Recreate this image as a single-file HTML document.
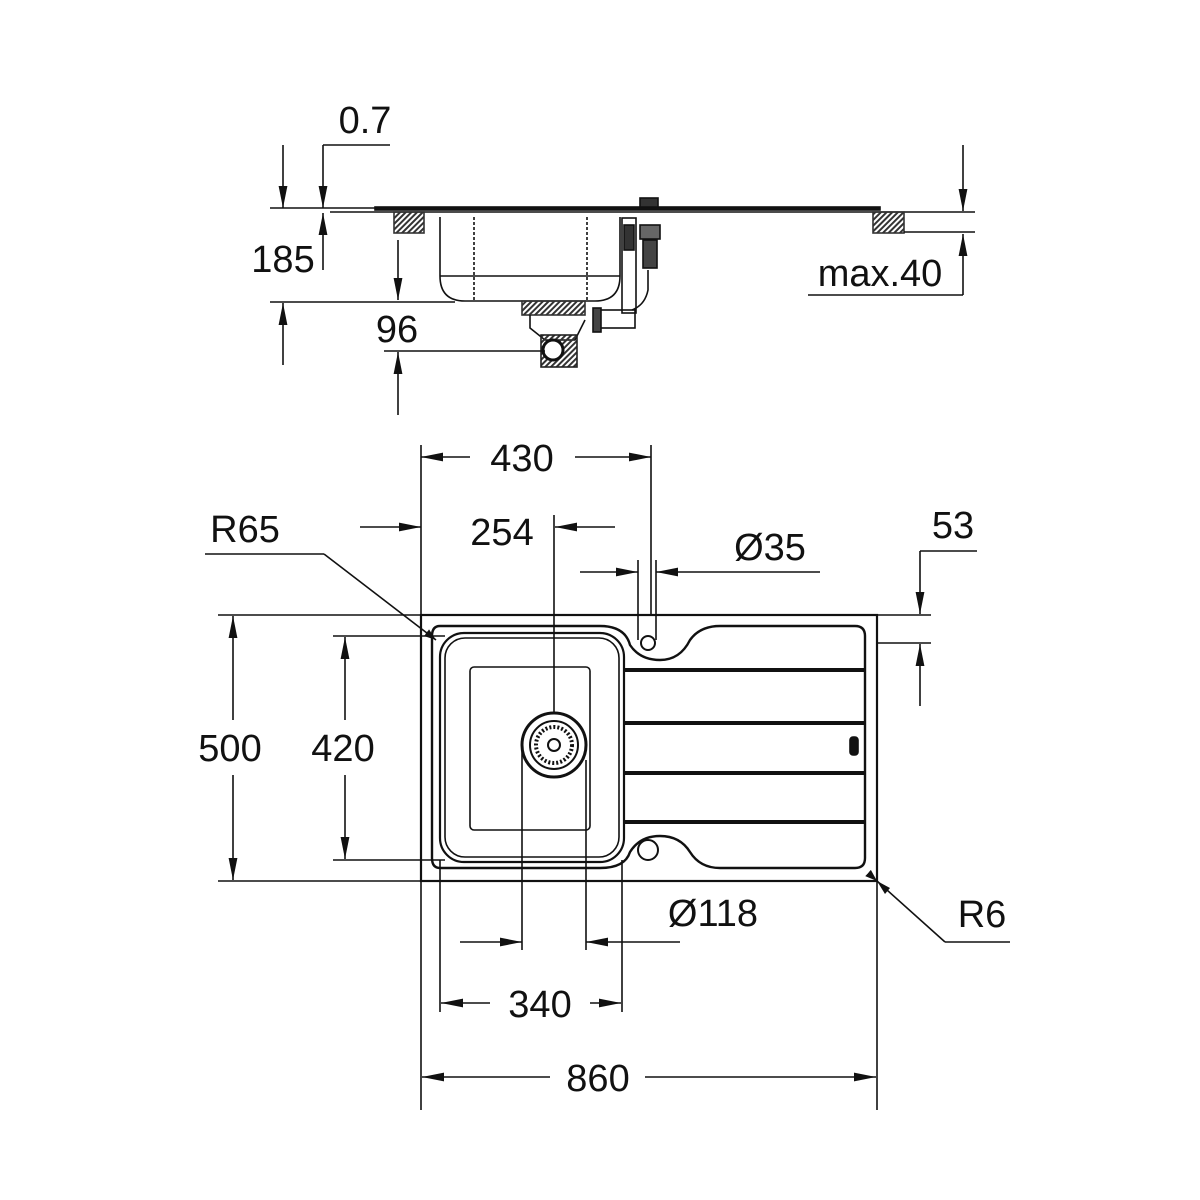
<!DOCTYPE html>
<html><head><meta charset="utf-8"><style>
html,body{margin:0;padding:0;background:#fff}
svg{display:block}
text{font-family:"Liberation Sans",sans-serif;font-size:38px;fill:#111}
</style></head><body>
<svg width="1200" height="1200" viewBox="0 0 1200 1200" xmlns="http://www.w3.org/2000/svg">
<defs>
<marker id="a" viewBox="0 0 10 10" refX="10" refY="5" markerWidth="12" markerHeight="12" markerUnits="userSpaceOnUse" orient="auto"><path d="M0,1.5 L10,5 L0,8.5z" fill="#111"/></marker>
<marker id="b" viewBox="0 0 20 10" refX="20" refY="5" markerWidth="22" markerHeight="11" markerUnits="userSpaceOnUse" orient="auto"><path d="M0,1 L20,5 L0,9z" fill="#111"/></marker>
<pattern id="h" width="4" height="4" patternUnits="userSpaceOnUse" patternTransform="rotate(45)"><rect width="2" height="4" fill="#333"/></pattern>
</defs>
<g stroke="#111" stroke-width="1.6" fill="none">
<line x1="270" y1="208" x2="380" y2="208"/>
<rect x="375" y="207" width="505" height="3" fill="#111"/>
<line x1="330" y1="212" x2="975" y2="212"/>
<rect x="394" y="212" width="30" height="21" fill="url(#h)" stroke="#333"/>
<rect x="873" y="212" width="31" height="21" fill="url(#h)" stroke="#333"/>
<line x1="904" y1="232" x2="975" y2="232"/>
<path d="M440 217 L440 276 Q440 301 465 301 L595 301 Q620 301 620 276 L620 217"/>
<line x1="440" y1="276" x2="620" y2="276"/>
<line x1="474" y1="217" x2="474" y2="301" stroke-dasharray="3 2"/>
<line x1="587" y1="217" x2="587" y2="301" stroke-dasharray="3 2"/>
<rect x="522" y="301" width="63" height="14" fill="url(#h)" stroke="#333"/>
<path d="M530 315 L530 328 L545 340 L575 340 L585 320"/>
<rect x="541" y="335" width="36" height="32" fill="url(#h)" stroke="#222"/>
<circle cx="553" cy="350" r="10" fill="#fff" stroke-width="3"/>
<rect x="595" y="310" width="40" height="18"/>
<rect x="593" y="308" width="8" height="24" fill="#444"/>
<rect x="622" y="218" width="14" height="95"/>
<rect x="624" y="225" width="10" height="25" fill="#333"/>
<path d="M648 270 L648 290 Q645 305 632 310"/>
<rect x="640" y="198" width="18" height="9" fill="#333"/>
<rect x="640" y="225" width="20" height="14" fill="#666"/>
<rect x="643" y="240" width="14" height="28" fill="#444"/>
<line x1="283" y1="145" x2="283" y2="208" marker-end="url(#b)"/>
<line x1="283" y1="365" x2="283" y2="303" marker-end="url(#b)"/>
<line x1="270" y1="302" x2="455" y2="302"/>
<line x1="323" y1="145" x2="390" y2="145"/>
<line x1="323" y1="145" x2="323" y2="208" marker-end="url(#b)"/>
<line x1="323" y1="270" x2="323" y2="213" marker-end="url(#b)"/>
<line x1="398" y1="240" x2="398" y2="300" marker-end="url(#b)"/>
<line x1="398" y1="415" x2="398" y2="352" marker-end="url(#b)"/>
<line x1="384" y1="351" x2="545" y2="351"/>
<line x1="963" y1="145" x2="963" y2="211" marker-end="url(#b)"/>
<line x1="963" y1="295" x2="963" y2="234" marker-end="url(#b)"/>
<line x1="808" y1="295" x2="963" y2="295"/>
<rect x="421" y="615" width="456" height="266" stroke-width="2.2"/>
<path d="M440 626 L600 626 Q625 626 630 645 Q640 660 660 660 Q680 660 690 640 Q700 626 720 626 L855 626 Q865 626 865 636 L865 858 Q865 868 855 868 L720 868 Q700 868 690 852 Q680 836 660 836 Q640 836 630 852 Q625 868 600 868 L440 868 Q432 868 432 858 L432 636 Q432 626 440 626 Z" stroke-width="2.4"/>
<rect x="440" y="633" width="184" height="229" rx="24" stroke-width="2.2"/>
<rect x="445" y="638" width="174" height="219" rx="20"/>
<rect x="470" y="667" width="120" height="163" rx="4"/>
<line x1="624" y1="670" x2="865" y2="670" stroke-width="4"/>
<line x1="624" y1="723" x2="865" y2="723" stroke-width="4"/>
<line x1="624" y1="773" x2="865" y2="773" stroke-width="4"/>
<line x1="624" y1="822" x2="865" y2="822" stroke-width="4"/>
<rect x="850" y="737" width="8" height="18" rx="3" fill="#111"/>
<circle cx="648" cy="643" r="7" stroke-width="2"/>
<circle cx="648" cy="850" r="10" stroke-width="2"/>
<circle cx="554" cy="745" r="32" stroke-width="3"/>
<circle cx="554" cy="745" r="24" stroke-width="2"/>
<circle cx="554" cy="745" r="18" stroke-width="4" stroke-dasharray="2 2"/>
<circle cx="554" cy="745" r="6" stroke-width="2"/>
<line x1="421" y1="445" x2="421" y2="1110"/>
<line x1="877" y1="881" x2="877" y2="1110"/>
<line x1="651" y1="445" x2="651" y2="615"/>
<line x1="470" y1="457" x2="421" y2="457" marker-end="url(#b)"/>
<line x1="575" y1="457" x2="651" y2="457" marker-end="url(#b)"/>
<line x1="360" y1="527" x2="421" y2="527" marker-end="url(#b)"/>
<line x1="615" y1="527" x2="555" y2="527" marker-end="url(#b)"/>
<line x1="554" y1="515" x2="554" y2="712"/>
<line x1="638" y1="560" x2="638" y2="640"/>
<line x1="656" y1="560" x2="656" y2="640"/>
<line x1="580" y1="572" x2="638" y2="572" marker-end="url(#b)"/>
<line x1="820" y1="572" x2="656" y2="572" marker-end="url(#b)"/>
<line x1="920" y1="551" x2="977" y2="551"/>
<line x1="920" y1="551" x2="920" y2="614" marker-end="url(#b)"/>
<line x1="920" y1="706" x2="920" y2="644" marker-end="url(#b)"/>
<line x1="877" y1="615" x2="931" y2="615"/>
<line x1="877" y1="643" x2="931" y2="643"/>
<line x1="205" y1="554" x2="324" y2="554"/>
<line x1="324" y1="554" x2="436" y2="640" marker-end="url(#a)"/>
<line x1="218" y1="615" x2="421" y2="615"/>
<line x1="218" y1="881" x2="421" y2="881"/>
<line x1="233" y1="720" x2="233" y2="616" marker-end="url(#b)"/>
<line x1="233" y1="775" x2="233" y2="880" marker-end="url(#b)"/>
<line x1="333" y1="636" x2="445" y2="636"/>
<line x1="333" y1="860" x2="445" y2="860"/>
<line x1="345" y1="720" x2="345" y2="637" marker-end="url(#b)"/>
<line x1="345" y1="775" x2="345" y2="859" marker-end="url(#b)"/>
<line x1="522" y1="745" x2="522" y2="950"/>
<line x1="586" y1="760" x2="586" y2="950"/>
<line x1="460" y1="942" x2="522" y2="942" marker-end="url(#b)"/>
<line x1="680" y1="942" x2="586" y2="942" marker-end="url(#b)"/>
<line x1="877" y1="881" x2="945" y2="942" marker-start="url(#a)"/>
<line x1="945" y1="942" x2="1010" y2="942"/>
<line x1="440" y1="860" x2="440" y2="1012"/>
<line x1="622" y1="860" x2="622" y2="1012"/>
<line x1="490" y1="1003" x2="441" y2="1003" marker-end="url(#b)"/>
<line x1="590" y1="1003" x2="621" y2="1003" marker-end="url(#b)"/>
<line x1="550" y1="1077" x2="422" y2="1077" marker-end="url(#b)"/>
<line x1="645" y1="1077" x2="876" y2="1077" marker-end="url(#b)"/>
</g>
<path d="M877 881 L890 888 L885 894z" fill="#111"/>
<text x="365" y="133" text-anchor="middle">0.7</text>
<text x="283" y="272" text-anchor="middle">185</text>
<text x="397" y="342" text-anchor="middle">96</text>
<text x="880" y="286" text-anchor="middle">max.40</text>
<text x="522" y="471" text-anchor="middle">430</text>
<text x="245" y="542" text-anchor="middle">R65</text>
<text x="502" y="545" text-anchor="middle">254</text>
<text x="770" y="560" text-anchor="middle">Ø35</text>
<text x="953" y="538" text-anchor="middle">53</text>
<text x="230" y="761" text-anchor="middle">500</text>
<text x="343" y="761" text-anchor="middle">420</text>
<text x="713" y="926" text-anchor="middle">Ø118</text>
<text x="982" y="927" text-anchor="middle">R6</text>
<text x="540" y="1017" text-anchor="middle">340</text>
<text x="598" y="1091" text-anchor="middle">860</text>
</svg>
</body></html>
